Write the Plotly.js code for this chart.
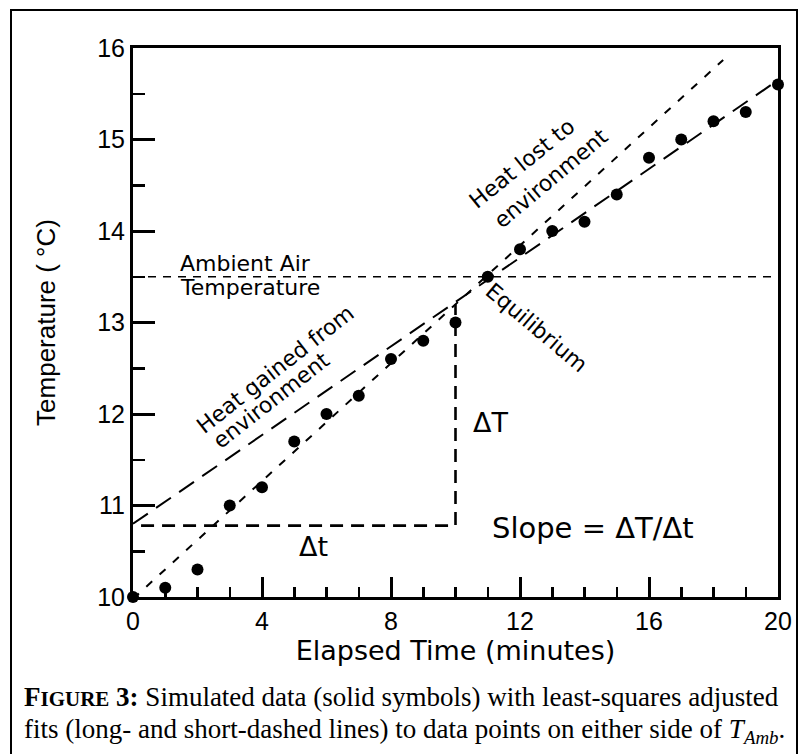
<!DOCTYPE html>
<html>
<head>
<meta charset="utf-8">
<script src="https://cdn.plot.ly/plotly-3.0.1.min.js"></script>
<style>html,body{margin:0;padding:0;background:#fff;}#chart{width:798px;height:754px;}</style>
</head>
<body>
<div id="chart"></div>
<script>
// ---- data ----
const timeMin = [0, 1, 2, 3, 4, 5, 6, 7, 8, 9, 10, 11, 12, 13, 14, 15, 16, 17, 18, 19, 20];
const tempC   = [10.0, 10.1, 10.3, 11.0, 11.2, 11.7, 12.0, 12.2, 12.6, 12.8, 13.0, 13.5, 13.8, 14.0, 14.1, 14.4, 14.8, 15.0, 15.2, 15.3, 15.6];

// short-dashed fit (heat gained side) endpoints
const gainFitX = [0, 18.3];
const gainFitY = [9.98, 15.87];
// long-dashed fit (heat lost side) endpoints
const lossFitX = [0, 19.8];
const lossFitY = [10.8, 15.6];
// ambient air temperature line
const ambientX = [0, 20];
const ambientY = [13.5, 13.5];
// delta-t / delta-T construction lines
const deltaX = [0.25, 10, 10];
const deltaY = [10.78, 10.78, 13.2];

const xTicks = [0, 4, 8, 12, 16, 20];
const yTicks = [10, 11, 12, 13, 14, 15, 16];

const SANS = 'Liberation Sans, Arial, sans-serif';
const WIDE = 'DejaVu Sans, sans-serif';
const SERIF = 'Liberation Serif, Times New Roman, serif';

// plot box in pixels (for paper-coordinate helpers)
const L = 133, R = 20, T = 48, B = 157, W = 798, H = 754;
const PW = W - L - R, PH = H - T - B;
const px = v => (v - L) / PW;
const py = v => (H - B - v) / PH;

const traces = [
  {x: ambientX, y: ambientY, mode: 'lines', line: {color: '#000', width: 1.6, dash: '8px,7px'}, hoverinfo: 'skip'},
  {x: deltaX, y: deltaY, mode: 'lines', line: {color: '#000', width: 2.6, dash: '13px,8px'}, hoverinfo: 'skip'},
  {x: gainFitX, y: gainFitY, mode: 'lines', line: {color: '#000', width: 2, dash: '8px,10px'}, hoverinfo: 'skip'},
  {x: lossFitX, y: lossFitY, mode: 'lines', line: {color: '#000', width: 2, dash: '18px,10px'}, hoverinfo: 'skip'},
  {x: timeMin, y: tempC, mode: 'markers', marker: {color: '#000', size: 12}, cliponaxis: false}
];

function ann(text, x, y, size, angle, family, extra) {
  return Object.assign({text: text, x: x, y: y, xref: 'x', yref: 'y', showarrow: false,
    textangle: angle || 0, xanchor: 'center', yanchor: 'middle',
    font: {family: family || WIDE, size: size, color: '#000'}}, extra || {});
}

const annotations = [
  ann('Ambient Air', 1.395, 13.65, 22, 0, WIDE, {xanchor: 'left'}),
  ann('Temperature', 1.395, 13.388, 22, 0, WIDE, {xanchor: 'left'}),
  ann('Heat gained from', 4.40, 12.49, 22, -38),
  ann('environment', 4.28, 12.15, 22, -38),
  ann('Heat lost to', 12.06, 14.74, 22, -39),
  ann('environment', 12.96, 14.57, 22, -40),
  ann('Equilibrium', 12.50, 12.94, 22, 40),
  ann('\u0394T', 11.07, 11.91, 27),
  ann('\u0394t', 5.61, 10.55, 27),
  ann('Slope = \u0394T/\u0394t', 14.26, 10.75, 29),
  {text: '<b>F<span style="font-size:21px">IGURE</span> 3:</b> Simulated data (solid symbols) with least-squares adjusted',
   xref: 'paper', yref: 'paper', x: px(22), y: py(697), xanchor: 'left', yanchor: 'middle', showarrow: false,
   font: {family: SERIF, size: 27, color: '#000'}},
  {text: 'fits (long- and short-dashed lines) to data points on either side of <i>T</i><sub><i>Amb</i></sub>.',
   xref: 'paper', yref: 'paper', x: px(22), y: py(731), xanchor: 'left', yanchor: 'middle', showarrow: false,
   font: {family: SERIF, size: 27, color: '#000'}}
];

const axisCommon = {
  showline: true, linewidth: 3, linecolor: '#000', mirror: true,
  ticks: 'inside', tickcolor: '#000', showgrid: false, zeroline: false,
  tickfont: {family: SANS, size: 25, color: '#000'}
};
const xMinor = {dtick: 1, tick0: 0, ticks: 'inside', ticklen: 10, tickwidth: 2.5, tickcolor: '#000'};
const yMinor = {dtick: 0.5, tick0: 0, ticks: 'inside', ticklen: 12, tickwidth: 2.5, tickcolor: '#000'};

const layout = {
  width: W, height: H,
  margin: {l: L, r: R, t: T, b: B, pad: 0},
  paper_bgcolor: '#fff', plot_bgcolor: '#fff',
  showlegend: false,
  xaxis: Object.assign({}, axisCommon, {
    range: [0, 20], tickmode: 'array', tickvals: xTicks, ticktext: xTicks.map(String),
    ticklen: 20, tickwidth: 3, minor: xMinor,
    title: {text: 'Elapsed Time (minutes)', font: {family: WIDE, size: 27, color: '#000'}, standoff: 5}
  }),
  yaxis: Object.assign({}, axisCommon, {
    range: [10, 16], tickmode: 'array', tickvals: yTicks, ticktext: yTicks.map(String),
    ticklen: 22, tickwidth: 3, minor: yMinor,
    title: {text: 'Temperature ( \u00B0C)', font: {family: SANS, size: 26, color: '#000'}, standoff: 35}
  }),
  xaxis2: {
    overlaying: 'x', side: 'top', anchor: 'y', range: [0, 20], tickmode: 'array', tickvals: xTicks,
    showticklabels: false, ticks: 'inside', ticklen: 20, tickwidth: 3, tickcolor: '#000',
    minor: xMinor, showline: false, showgrid: false, zeroline: false
  },
  yaxis2: {
    overlaying: 'y', side: 'right', anchor: 'x', range: [10, 16], tickmode: 'array', tickvals: yTicks,
    showticklabels: false, ticks: 'inside', ticklen: 22, tickwidth: 3, tickcolor: '#000',
    minor: yMinor, showline: false, showgrid: false, zeroline: false
  },
  annotations: annotations,
  shapes: [
    {type: 'rect', xref: 'paper', yref: 'paper', x0: px(11), x1: px(797), y0: py(10), y1: py(775),
     line: {color: '#000', width: 2}, fillcolor: 'rgba(0,0,0,0)', layer: 'below'}
  ]
};

Plotly.newPlot('chart', traces, layout, {staticPlot: true, displayModeBar: false});
</script>
</body>
</html>
